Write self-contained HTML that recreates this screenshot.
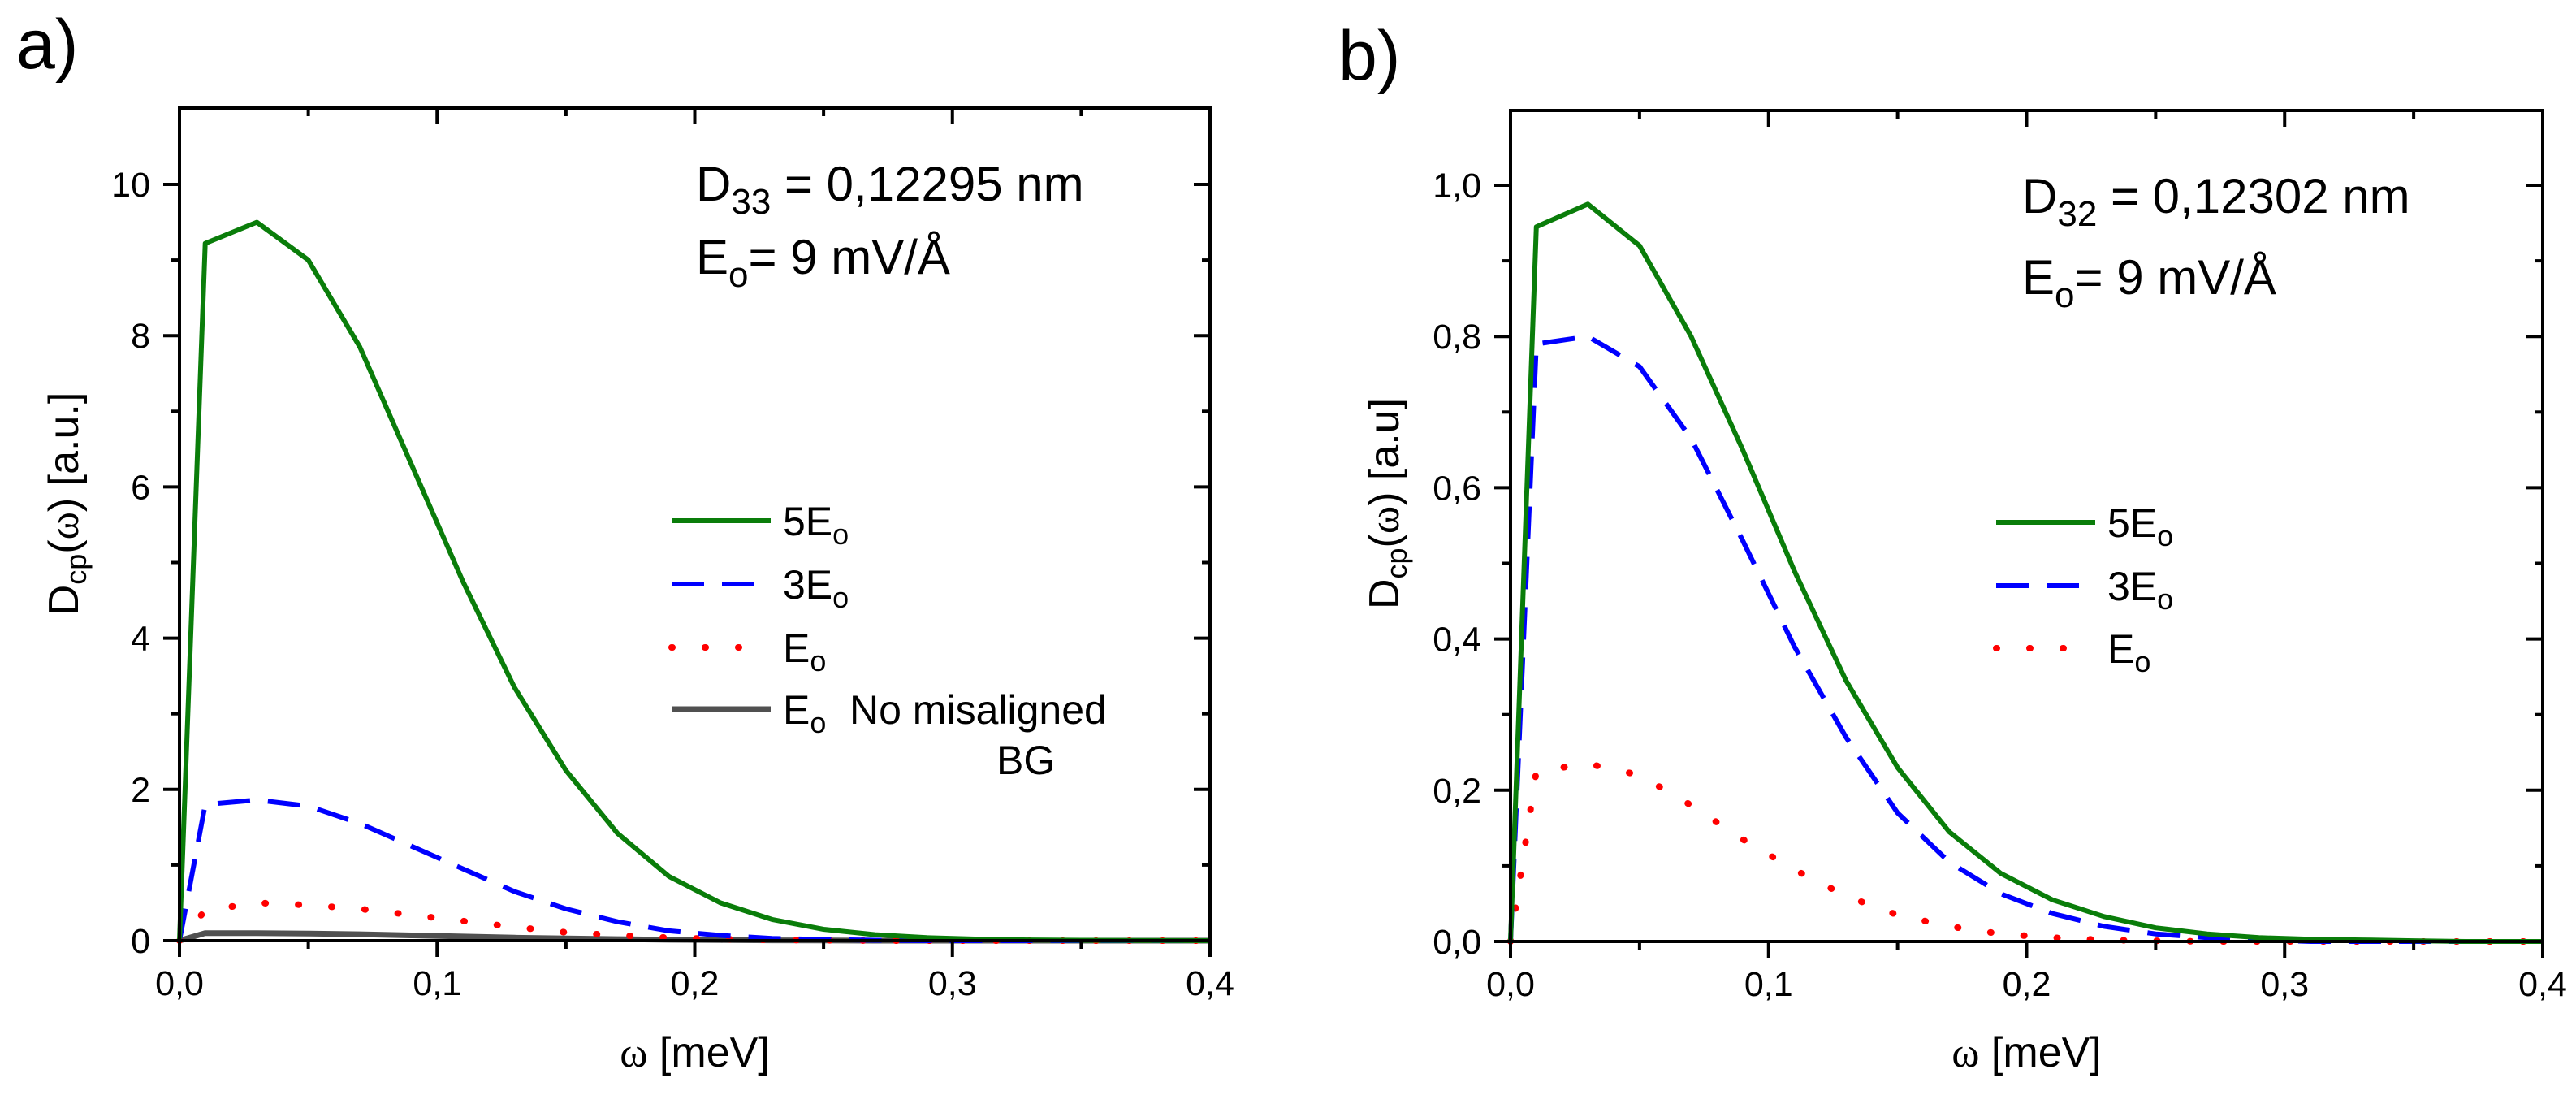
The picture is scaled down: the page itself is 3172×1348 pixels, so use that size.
<!DOCTYPE html>
<html><head><meta charset="utf-8"><style>
html,body{margin:0;padding:0;background:#fff;}
svg{display:block;font-family:"Liberation Sans",Arial,sans-serif;}
</style></head><body>
<svg id="fig" width="3172" height="1348" viewBox="0 0 3172 1348" xmlns="http://www.w3.org/2000/svg">
<rect width="3172" height="1348" fill="#fff"/>
<text x="20" y="84" font-size="86">a)</text>
<text x="1648" y="98" font-size="86">b)</text>
<g font-size="60">
<text x="857" y="247">D<tspan font-size="44" dy="16">33</tspan><tspan dy="-16"> = 0,12295 nm</tspan></text>
<text x="857" y="337">E<tspan font-size="44" dy="16">o</tspan><tspan dy="-16">= 9 mV/Å</tspan></text>
</g>
<g font-size="60">
<text x="2490" y="262">D<tspan font-size="44" dy="16">32</tspan><tspan dy="-16"> =  0,12302 nm</tspan></text>
<text x="2490" y="362">E<tspan font-size="44" dy="16">o</tspan><tspan dy="-16">= 9 mV/Å</tspan></text>
</g>
<g id="pa"></g><g id="pb"></g>
</svg>
<script>
const xs = [0,0.01,0.03,0.05,0.07,0.09,0.11,0.13,0.15,0.17,0.19,0.21,0.23,0.25,0.27,0.29,0.31,0.33,0.35,0.37,0.4];
const a5E = [0,9.22,9.5,9.0,7.85,6.3,4.75,3.35,2.25,1.42,0.85,0.5,0.28,0.15,0.08,0.04,0.02,0.01,0.005,0.002,0];
const a3E = [0,1.8,1.86,1.78,1.55,1.25,0.95,0.65,0.42,0.25,0.13,0.07,0.03,0.015,0.005,0,0,0,0,0,0];
const a1E = [0,0.4,0.5,0.47,0.42,0.34,0.26,0.18,0.11,0.07,0.04,0.02,0.01,0.005,0,0,0,0,0,0,0];
const aBG = [0,0.1,0.1,0.095,0.085,0.07,0.055,0.04,0.03,0.02,0.012,0.007,0.004,0.002,0,0,0,0,0,0,0];
const b5E = [0,0.945,0.975,0.92,0.80,0.65,0.49,0.345,0.23,0.145,0.09,0.055,0.033,0.018,0.01,0.005,0.003,0.002,0.001,0,0];
const b3E = [0,0.79,0.80,0.76,0.665,0.53,0.39,0.27,0.17,0.105,0.063,0.037,0.02,0.01,0.005,0.002,0,0,0,0,0];
const b1E = [0,0.225,0.235,0.22,0.18,0.135,0.095,0.06,0.035,0.02,0.01,0.005,0.002,0.001,0,0,0,0,0,0,0];
const xTicks = [0,0.1,0.2,0.3,0.4];
const xTickLabels = ["0,0","0,1","0,2","0,3","0,4"];
const aYTicks = [0,2,4,6,8,10];
const aYTickLabels = ["0","2","4","6","8","10"];
const bYTicks = [0,0.2,0.4,0.6,0.8,1.0];
const bYTickLabels = ["0,0","0,2","0,4","0,6","0,8","1,0"];
const NS="http://www.w3.org/2000/svg";
function mk(p,tag,at){const e=document.createElementNS(NS,tag);for(const k in at)e.setAttribute(k,at[k]);p.appendChild(e);return e;}
function panel(g,cfg){
  const X=v=>cfg.x0+(v-0)/0.4*(cfg.x1-cfg.x0);
  const Y=v=>cfg.y0-(v/cfg.yTickVal)*(cfg.y0-cfg.yTickPx);
  const yTop=cfg.top;
  cfg.series.forEach(s=>{
    const pts=xs.map((x,i)=>X(x).toFixed(1)+","+Y(s.vals[i]).toFixed(1)).join(" ");
    const pl=mk(g,"polyline",{points:pts,fill:"none",stroke:s.color,"stroke-width":s.w,"stroke-dasharray":s.dash||"none","stroke-linecap":s.cap||"butt","stroke-linejoin":"round"});
    
    
  });
  const fr=mk(g,"rect",{x:cfg.x0,y:yTop,width:cfg.x1-cfg.x0,height:cfg.y0-yTop,fill:"none",stroke:"#000","stroke-width":4});
  
  
  for(let v=0;v<=0.4001;v+=0.05){
    const major=Math.abs(v*10-Math.round(v*10))<1e-6;
    const px=X(v);
    mk(g,"line",{x1:px,x2:px,y1:cfg.y0,y2:cfg.y0+(major?20:10),stroke:"#000","stroke-width":4});
    mk(g,"line",{x1:px,x2:px,y1:yTop,y2:yTop+(major?20:10),stroke:"#000","stroke-width":4});
  }
  xTicks.forEach((v,i)=>{
    const t=mk(g,"text",{x:X(v),y:cfg.y0+67,"font-size":43,"text-anchor":"middle"});
    t.textContent=xTickLabels[i];
    
    
  });
  const step=cfg.yTicks[1]-cfg.yTicks[0];
  const ymax=cfg.yTicks[cfg.yTicks.length-1]+step/2;
  for(let k=0;k*step/2<=ymax+1e-9;k++){
    const v=k*step/2, py=Y(v), major=k%2==0;
    if(py<yTop+2) continue;
    mk(g,"line",{x1:cfg.x0-(major?20:10),x2:cfg.x0,y1:py,y2:py,stroke:"#000","stroke-width":4});
    mk(g,"line",{x1:cfg.x1-(major?20:10),x2:cfg.x1,y1:py,y2:py,stroke:"#000","stroke-width":4});
  }
  cfg.yTicks.forEach((v,i)=>{
    const t=mk(g,"text",{x:cfg.x0-36,y:Y(v)+15,"font-size":43,"text-anchor":"end"});
    t.textContent=cfg.yLabels[i];
    
    
  });
  const xt=mk(g,"text",{x:(cfg.x0+cfg.x1)/2,y:1313,"font-size":52,"text-anchor":"middle"});
  xt.innerHTML='<tspan font-family="Liberation Serif,serif">ω</tspan> [meV]';
  
  
  const yt=mk(g,"text",{transform:`translate(${cfg.ytx},${cfg.yty}) rotate(-90)`,"font-size":52,"text-anchor":"middle"});
  yt.innerHTML='D<tspan font-size="36" dy="10">cp</tspan><tspan dy="-10">(</tspan><tspan font-family="Liberation Serif,serif">ω</tspan>) '+cfg.yUnit;
  
  
  cfg.legend.forEach(L=>{
    const ln=mk(g,"line",{x1:cfg.lx,x2:cfg.lx+122,y1:L.y,y2:L.y,stroke:L.s.color,"stroke-width":L.s.w,"stroke-dasharray":L.s.dash||"none","stroke-linecap":L.s.cap||"butt"});
    
    
    const t=mk(g,"text",{x:cfg.lx+137,y:L.y+18,"font-size":50});
    t.innerHTML=L.html;
    
    
  });
}
const sub='<tspan font-size="36" dy="11">o</tspan>';
const G={color:"#0a7d0a",w:6,name:"series-5Eo"}, B={color:"#0000ff",w:6,dash:"40 22",name:"series-3Eo"},
      R={color:"#ff0000",w:8,dash:"1 40",cap:"round",name:"series-Eo"}, K={color:"#505050",w:7,name:"series-Eo-no-misaligned-bg"};
panel(document.getElementById("pa"),{x0:221,x1:1490,y0:1158,top:133,yTickVal:10,yTickPx:227,yTicks:aYTicks,yLabels:aYTickLabels,
  yUnit:"[a.u.]",ytx:96,yty:620,lx:827,
  series:[Object.assign({},K,{vals:aBG}),Object.assign({},R,{vals:a1E}),Object.assign({},B,{vals:a3E}),Object.assign({},G,{vals:a5E})],
  legend:[{y:641,s:G,html:'5E'+sub},{y:719,s:B,html:'3E'+sub},{y:797,s:R,html:'E'+sub},{y:873,s:K,html:'E'+sub}]});
panel(document.getElementById("pb"),{x0:1860,x1:3131,y0:1159,top:136,yTickVal:1,yTickPx:228,yTicks:bYTicks,yLabels:bYTickLabels,
  yUnit:"[a.u]",ytx:1722,yty:620,lx:2458,
  series:[Object.assign({},R,{vals:b1E}),Object.assign({},B,{vals:b3E}),Object.assign({},G,{vals:b5E})],
  legend:[{y:643,s:G,html:'5E'+sub},{y:721,s:B,html:'3E'+sub},{y:798,s:R,html:'E'+sub}]});
const pa=document.getElementById("pa");
const t1=mk(pa,"text",{x:1046,y:891,"font-size":50});t1.textContent="No misaligned";


const t2=mk(pa,"text",{x:1227,y:953,"font-size":50});t2.textContent="BG";


</script>
</body></html>
